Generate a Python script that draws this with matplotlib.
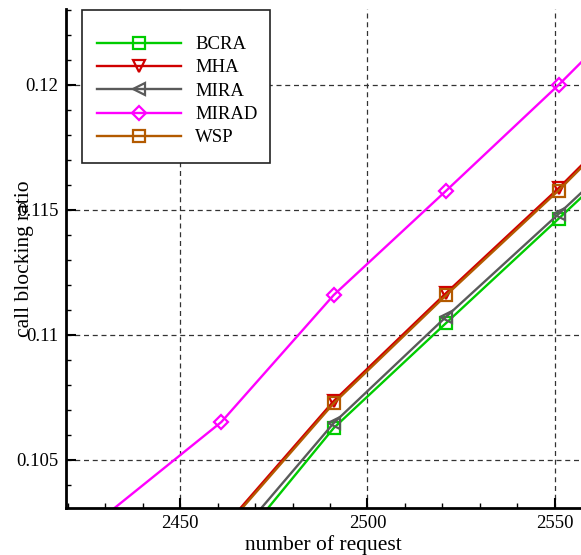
import matplotlib
matplotlib.use("Agg")
import matplotlib.pyplot as plt
from matplotlib.patches import Rectangle
from matplotlib.ticker import MultipleLocator

plt.rcParams['font.family'] = ['Liberation Serif', 'DejaVu Serif']

# requests (first and last points lie outside the visible window)
requests = [2431, 2461, 2491, 2521, 2551, 2581]

bcra  = [0.0990, 0.1008, 0.10628, 0.11048, 0.11465, 0.11885]
mha   = [0.0970, 0.10220, 0.10736, 0.11168, 0.11587, 0.12037]
mira  = [0.0982, 0.1012, 0.10648, 0.11073, 0.11484, 0.11904]
mirad = [0.1029, 0.10652, 0.11160, 0.11577, 0.12000, 0.12450]
wsp   = [0.0970, 0.10212, 0.10727, 0.11159, 0.11578, 0.12028]

series = [
    ("BCRA", bcra, "#00cc00", "s"),
    ("MHA", mha, "#d00000", "v"),
    ("MIRA", mira, "#5a5a5a", "<"),
    ("MIRAD", mirad, "#ff00ff", "D"),
    ("WSP", wsp, "#b35a00", "s"),
]

fig = plt.figure(figsize=(5.81, 5.55), dpi=100)
W, H = 581, 555
ax = fig.add_axes([65.5 / W, 1 - 508 / H, 1 - 65.5 / W, (508 - 9) / H])

for name, vals, col, mk in series:
    ms = 7 if mk == "D" else 8.5
    ax.plot(requests, vals, color=col, lw=1.7, marker=mk, ms=ms,
            mfc="none", mec=col, mew=1.6, markevery=slice(1, 5), label=name)

ax.set_xlim(2419.4, 2557.0)
ax.set_ylim(0.10308, 0.12304)

ax.xaxis.set_major_locator(MultipleLocator(50))
ax.xaxis.set_minor_locator(MultipleLocator(10))
ax.yaxis.set_major_locator(MultipleLocator(0.005))
ax.yaxis.set_minor_locator(MultipleLocator(0.001))
ax.set_yticks([0.105, 0.11, 0.115, 0.12])
ax.set_yticklabels(["0.105", "0.11", "0.115", "0.12"])

ax.tick_params(which="major", direction="in", length=7, width=1.5, labelsize=13.5, pad=5)
ax.tick_params(which="minor", direction="in", length=3.5, width=1)
ax.tick_params(top=False, right=False)

for s in ("top", "right"):
    ax.spines[s].set_visible(False)
for s in ("left", "bottom"):
    ax.spines[s].set_linewidth(2)

ax.grid(True, which="major", color="#333333", linestyle=(0, (4, 3)), linewidth=0.9)

ax.set_xlabel("number of request", fontsize=15.5)
ax.set_ylabel("call blocking ratio", fontsize=15.5)
ax.xaxis.set_label_coords(0.5, -0.055)
ax.yaxis.set_label_coords(-0.062, 0.5)

# legend box drawn separately so the padding matches the original
box = Rectangle((82 / W, 1 - 163 / H), (270 - 82) / W, (163 - 10) / H,
                transform=fig.transFigure, facecolor="white",
                edgecolor="#222222", linewidth=1.2, zorder=4)
fig.add_artist(box)

handles, labels = ax.get_legend_handles_labels()
leg = fig.legend(handles, labels, loc="upper left",
                 bbox_to_anchor=(97 / W, 1 - 36 / H),
                 bbox_transform=fig.transFigure, borderaxespad=0, borderpad=0,
                 fontsize=13.5, handlelength=4.5, labelspacing=0.33,
                 handletextpad=0.75, frameon=False)
leg.set_zorder(5)

fig.savefig("out.png", dpi=100)
